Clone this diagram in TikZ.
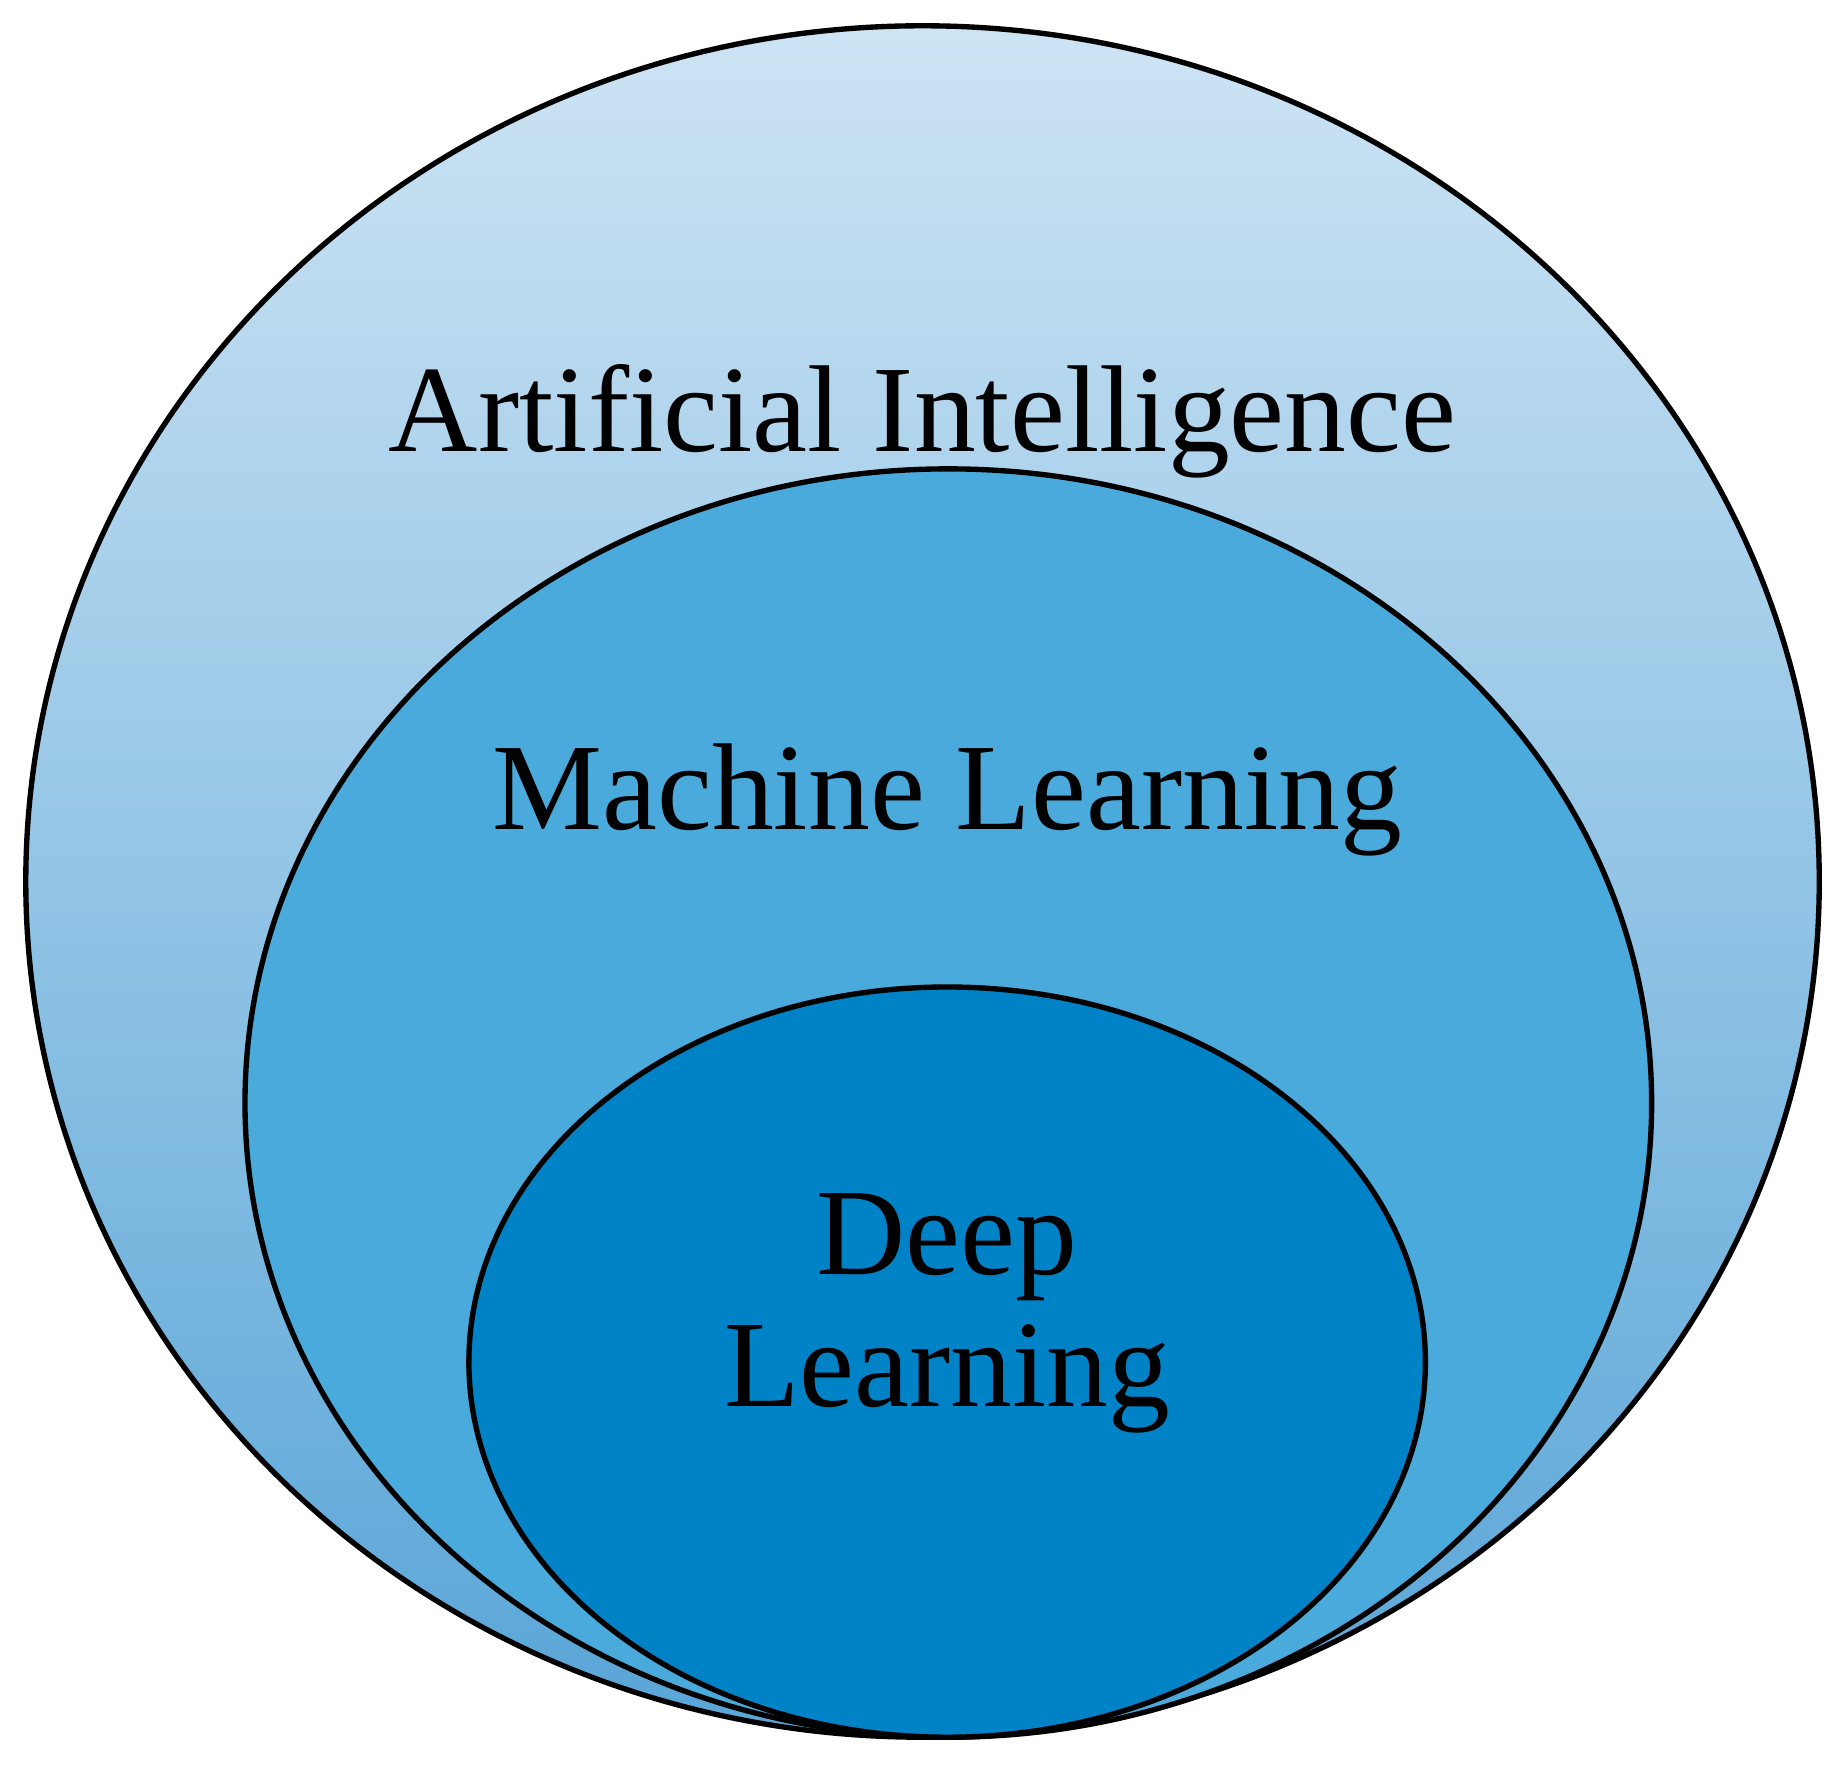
\documentclass[tikz,border=0pt]{standalone}
\usepackage{fontspec}
\setmainfont{Liberation Serif}
\begin{document}
\begin{tikzpicture}
\definecolor{aitop}{RGB}{205,228,244}
\definecolor{aibot}{RGB}{88,165,215}
\definecolor{mlc}{RGB}{75,170,220}
\definecolor{dlc}{RGB}{0,130,198}
\tikzset{circ/.style={draw=black,line width=1.3pt},
lbl/.style={anchor=base,font=\fontsize{30}{34}\selectfont,align=center}}
\useasboundingbox (0,0) rectangle (15.68,15.06);
\draw[circ,top color=aitop,bottom color=aibot] (7.87,7.54) ellipse [x radius=7.65,y radius=7.30];
\draw[circ,fill=mlc] (8.09,5.65) ellipse [x radius=6.00,y radius=5.41];
\draw[circ,fill=dlc] (8.08,3.44) ellipse [x radius=4.08,y radius=3.20];
\node[lbl] (ai) at (7.87,11.21) {Artificial Intelligence};
\node[lbl] (ml) at (8.08,7.98) {Machine Learning};
\node[lbl] (dl1) at (8.08,4.19) {Deep};
\node[lbl] (dl2) at (8.08,3.06) {Learning};
\end{tikzpicture}
\end{document}
